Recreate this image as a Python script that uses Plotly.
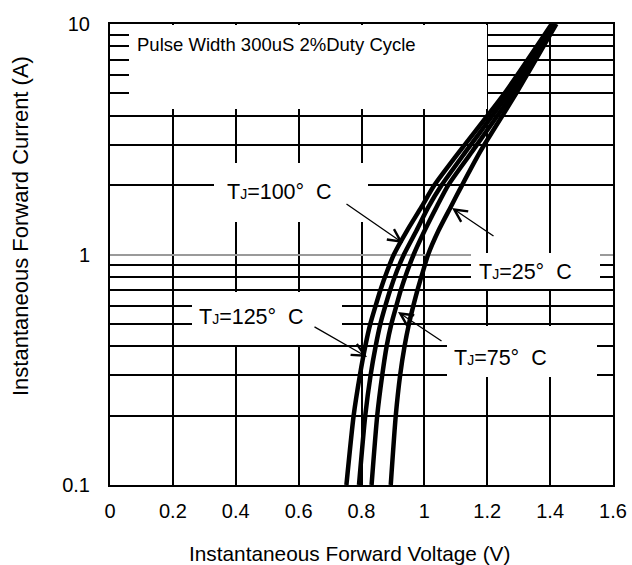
import plotly.graph_objects as go

# ---- data ----
current_a = [0.1, 0.2, 0.3, 0.4, 0.5, 0.6, 0.7, 0.85, 1.0, 1.27, 1.6, 2.0, 2.8, 5.0, 10.0]
vf_125c = [0.752, 0.775, 0.795, 0.812, 0.828, 0.845, 0.860, 0.882, 0.903, 0.945, 0.990, 1.032, 1.112, 1.255, 1.405]
vf_100c = [0.792, 0.812, 0.829, 0.845, 0.860, 0.876, 0.891, 0.913, 0.935, 0.975, 1.012, 1.055, 1.132, 1.268, 1.410]
vf_75c = [0.832, 0.850, 0.866, 0.880, 0.895, 0.911, 0.925, 0.946, 0.966, 1.001, 1.038, 1.076, 1.152, 1.281, 1.415]
vf_25c = [0.893, 0.909, 0.923, 0.937, 0.951, 0.965, 0.978, 0.996, 1.012, 1.045, 1.083, 1.120, 1.178, 1.292, 1.420]

x_ticks = [0, 0.2, 0.4, 0.6, 0.8, 1.0, 1.2, 1.4, 1.6]
x_tick_labels = ["0", "0.2", "0.4", "0.6", "0.8", "1", "1.2", "1.4", "1.6"]
y_ticks = [0.1, 1, 10]
y_tick_labels = ["0.1", "1", "10"]
y_minor = [0.2, 0.3, 0.4, 0.5, 0.6, 0.7, 0.8, 0.9, 2, 3, 4, 5, 6, 7, 8, 9]

x_title = "Instantaneous Forward Voltage (V)"
y_title = "Instantaneous Forward Current (A)"
note = "Pulse Width 300uS 2%Duty Cycle"

FONT = "Liberation Sans, Arial, sans-serif"

# body margin is removed in the page, so figure pixels == screen pixels
W, H = 632, 565
L, R, T, B = 110, 19, 24, 80
PL, PT, PW, PH = L, T, W - L - R, H - T - B


def px(x):
    return (x - PL) / PW


def py(y):
    return (PT + PH - y) / PH


fig = go.Figure()
for v in [vf_125c, vf_100c, vf_75c, vf_25c]:
    fig.add_trace(go.Scatter(x=v, y=current_a, mode="lines",
                             line=dict(color="black", width=4.5, shape="spline", smoothing=0.6),
                             showlegend=False, hoverinfo="skip"))

# white label boxes (screen pixel boxes), drawn as blank annotations with a white background
boxes = [(129, 25.5, 487, 109), (214, 163, 368, 222), (471, 253, 600, 289),
         (192, 292, 342, 345), (447, 326, 597, 377)]
for x0, y0, x1, y1 in boxes:
    fig.add_annotation(text="\u00a0", xref="paper", yref="paper",
                       x=px((x0 + x1) / 2), y=py((y0 + y1) / 2),
                       xanchor="center", yanchor="middle", showarrow=False,
                       width=x1 - x0, height=y1 - y0, bgcolor="white",
                       borderpad=0, borderwidth=0, font=dict(size=4))


def tj(t):
    return "T<span style='font-size:14px'>J</span>=" + t + "°\u00a0\u00a0C"


labels = [(note, 276, 45, 18.5), (tj("100"), 279, 192, 21.5), (tj("25"), 525, 272, 21.5),
          (tj("125"), 251, 317, 21.5), (tj("75"), 500, 358, 21.5)]
for txt, x, y, s in labels:
    fig.add_annotation(text=txt, xref="paper", yref="paper", x=px(x), y=py(y),
                       xanchor="center", yanchor="middle", showarrow=False,
                       font=dict(family=FONT, size=s, color="black"))

# arrows: (tail_x, tail_y, head_x, head_y) in screen pixels
arrows = [(345, 203, 403, 243), (495, 237, 452, 208), (313, 326, 367, 357), (443, 342, 398, 312)]
for tx, ty, hx, hy in arrows:
    fig.add_annotation(text="", xref="paper", yref="paper", x=px(hx), y=py(hy),
                       ax=tx - hx, ay=ty - hy, axref="pixel", ayref="pixel",
                       showarrow=True, arrowhead=5, arrowsize=1.9, arrowwidth=1.3,
                       arrowcolor="black")

# axis titles
fig.add_annotation(text=x_title, xref="paper", yref="paper", x=px(349), y=py(553),
                   xanchor="center", yanchor="middle", showarrow=False,
                   font=dict(family=FONT, size=20.8, color="black"))
fig.add_annotation(text=y_title, xref="paper", yref="paper", x=px(20), y=py(226),
                   xanchor="center", yanchor="middle", showarrow=False, textangle=-90,
                   font=dict(family=FONT, size=22, color="black"))

fig.update_xaxes(range=[0, 1.6], tickvals=x_ticks, ticktext=x_tick_labels,
                 showgrid=True, gridcolor="black", gridwidth=1.5,
                 showline=True, linecolor="black", linewidth=2, mirror=True,
                 ticks="", ticklabelstandoff=7, zeroline=False, automargin=False,
                 tickfont=dict(family=FONT, size=20, color="black"))
fig.update_yaxes(type="log", range=[-1, 1], tickvals=y_ticks, ticktext=y_tick_labels,
                 showgrid=True, gridcolor="#9a9a9a", gridwidth=1.5,
                 minor=dict(tickvals=y_minor, showgrid=True, gridcolor="black", gridwidth=1.5, ticks=""),
                 showline=True, linecolor="black", linewidth=2, mirror=True,
                 ticks="", ticklabelstandoff=14, zeroline=False, automargin=False,
                 tickfont=dict(family=FONT, size=20, color="black"))

fig.update_layout(width=W, height=H, margin=dict(l=L, r=R, t=T, b=B),
                  paper_bgcolor="white", plot_bgcolor="white",
                  font=dict(family=FONT, color="black"))

fig.write_html("out.html", config={"displayModeBar": False},
               post_script="document.body.style.margin='0px';document.body.style.overflow='hidden';")
